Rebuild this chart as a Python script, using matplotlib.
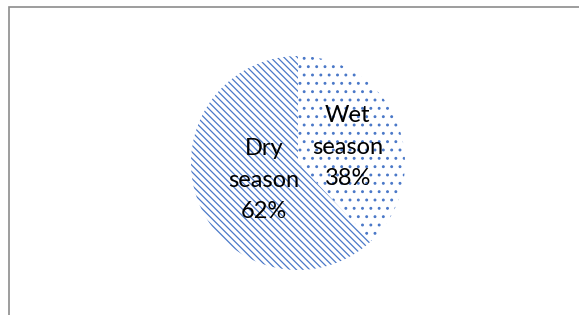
import numpy as np
from matplotlib import pyplot as plt, patches

# data
seasons = ['Wet season', 'Dry season']
shares = [38, 62]
hatches = ['..', '\\\\\\\\\\']
label_dist = [0.5, 0.34]

plt.rcParams['hatch.color'] = '#4a78c8'
plt.rcParams['hatch.linewidth'] = 0.9
plt.rcParams['font.family'] = ['Lato', 'DejaVu Sans']

fig = plt.figure(figsize=(5.79, 3.15), dpi=100)

# chart border (gray frame, cut off at right/bottom)
fig.patches.append(patches.Rectangle((9 / 579, -0.05), 1.2, 1 - 7 / 315 + 0.05,
                                     transform=fig.transFigure, fill=False,
                                     edgecolor='#8c8c8c', linewidth=1.2))

cx, cy, r = 298, 163, 107
ax = fig.add_axes([(cx - r) / 579, 1 - (cy + r) / 315, 2 * r / 579, 2 * r / 315])

wedges, _ = ax.pie(shares, startangle=90, counterclock=False,
                   colors=['white', 'white'],
                   wedgeprops=dict(linewidth=0))
for w, h in zip(wedges, hatches):
    w.set_hatch(h)

for w, name, val, d in zip(wedges, seasons, shares, label_dist):
    ang = np.deg2rad((w.theta1 + w.theta2) / 2)
    word1, word2 = name.split()
    ax.text(d * np.cos(ang), d * np.sin(ang) - 0.035,
            f'{word1.capitalize()}\n{word2}\n{val}%',
            ha='center', va='center', fontsize=17, linespacing=1.6, color='black')

ax.set_xlim(-1, 1)
ax.set_ylim(-1, 1)
ax.axis('off')

plt.savefig('out.png', dpi=100)
